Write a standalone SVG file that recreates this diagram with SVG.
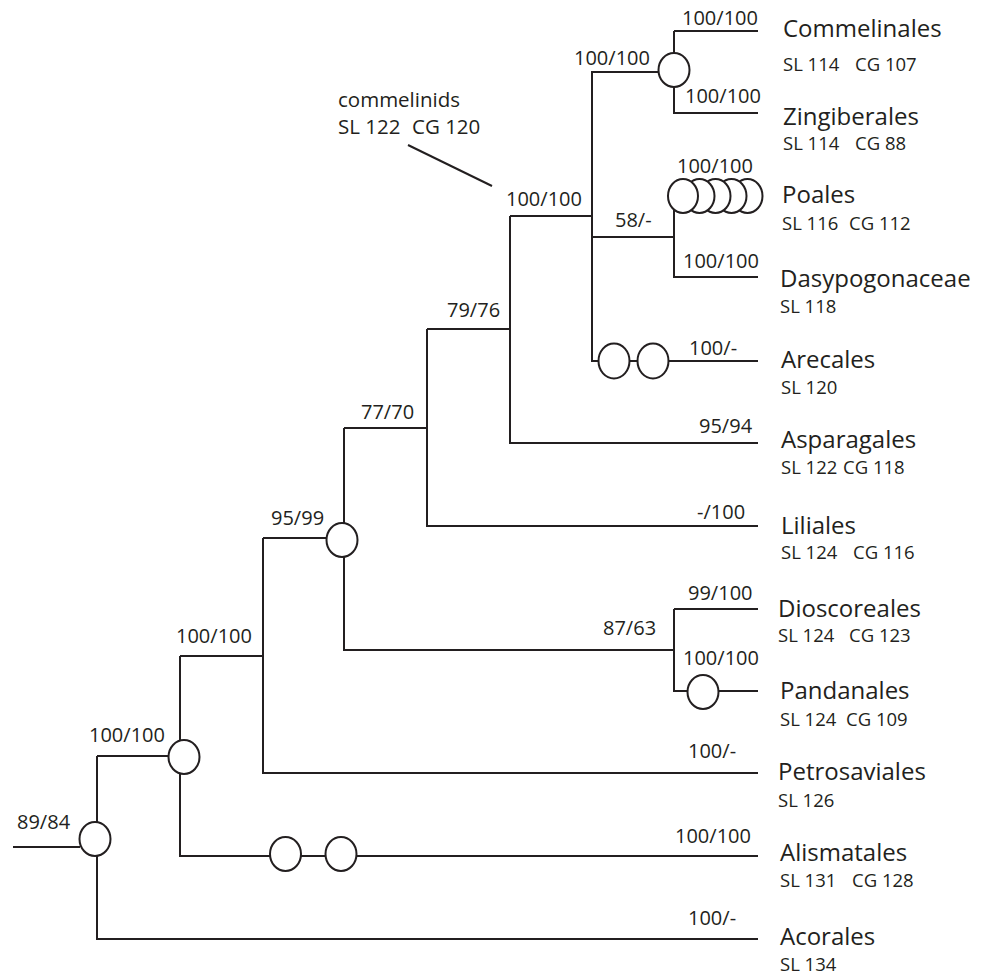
<svg xmlns="http://www.w3.org/2000/svg" width="987" height="975" viewBox="0 0 987 975">
<style>
  .br{fill:none;stroke:#231f20;stroke-width:2;stroke-linecap:butt}
  .ev{fill:#fff;stroke:#231f20;stroke-width:2}
  .lab{font-family:"Open Sans","Liberation Sans",sans-serif;font-size:20px;fill:#231f20}
  .tx{font-family:"Open Sans","Liberation Sans",sans-serif;font-size:24px;fill:#231f20}
  .sl{font-family:"Open Sans","Liberation Sans",sans-serif;font-size:18.5px;fill:#231f20}
  .cm{font-family:"Open Sans","Liberation Sans",sans-serif;font-size:20.5px;fill:#231f20}
</style>
<rect width="987" height="975" fill="#fff"/>
<g id="connectors">
  <path class="br" d="M13 847H80"/>
  <path class="br" d="M97 756V939H758"/>
  <path class="br" d="M97 756H169"/>
  <path class="br" d="M180 656V856H758"/>
  <path class="br" d="M180 656H263"/>
  <path class="br" d="M263 538V773H758"/>
  <path class="br" d="M263 538H344"/>
  <path class="br" d="M344 428V650H674"/>
  <path class="br" d="M674 609V691H758"/>
  <path class="br" d="M674 609H758"/>
  <path class="br" d="M344 428H427"/>
  <path class="br" d="M427 329V526H758"/>
  <path class="br" d="M427 329H510"/>
  <path class="br" d="M510 216V443H758"/>
  <path class="br" d="M510 216H592V361H758"/>
  <path class="br" d="M592 237H674"/>
  <path class="br" d="M674 196V277H758"/>
  <path class="br" d="M674 196H758"/>
  <path class="br" d="M592 216V72H660"/>
  <path class="br" d="M674 31V113H758"/>
  <path class="br" d="M674 31H758"/>
  <path class="br" d="M408 145L492 186"/>
</g>
<g id="events">
  <ellipse class="ev" cx="95" cy="839" rx="15.5" ry="17"/>
  <ellipse class="ev" cx="184" cy="757" rx="15.5" ry="17"/>
  <ellipse class="ev" cx="285.5" cy="854" rx="15.5" ry="17"/>
  <ellipse class="ev" cx="341" cy="854" rx="15.5" ry="17"/>
  <ellipse class="ev" cx="342" cy="540" rx="15.5" ry="17"/>
  <ellipse class="ev" cx="703" cy="692" rx="15.5" ry="17"/>
  <ellipse class="ev" cx="614" cy="361" rx="15.5" ry="17.5"/>
  <ellipse class="ev" cx="653" cy="361" rx="15.5" ry="17.5"/>
  <ellipse class="ev" cx="674" cy="70" rx="15.5" ry="17"/>
  <ellipse class="ev" cx="747.5" cy="196" rx="15" ry="17"/>
  <ellipse class="ev" cx="731.5" cy="196" rx="15" ry="17"/>
  <ellipse class="ev" cx="715.5" cy="196" rx="15" ry="17"/>
  <ellipse class="ev" cx="699.5" cy="196" rx="15" ry="17"/>
  <ellipse class="ev" cx="683" cy="196" rx="15" ry="17"/>
</g>
<g id="support">
  <text class="lab" x="682" y="25">100/100</text>
  <text class="lab" x="574" y="65">100/100</text>
  <text class="lab" x="685" y="103">100/100</text>
  <text class="lab" x="677" y="173">100/100</text>
  <text class="lab" x="506" y="206">100/100</text>
  <text class="lab" x="615" y="227">58/-</text>
  <text class="lab" x="683" y="268">100/100</text>
  <text class="lab" x="447" y="317">79/76</text>
  <text class="lab" x="689" y="355">100/-</text>
  <text class="lab" x="361" y="419">77/70</text>
  <text class="lab" x="699" y="433">95/94</text>
  <text class="lab" x="697" y="519">-/100</text>
  <text class="lab" x="271" y="525">95/99</text>
  <text class="lab" x="688" y="600">99/100</text>
  <text class="lab" x="603" y="635">87/63</text>
  <text class="lab" x="683" y="665">100/100</text>
  <text class="lab" x="176" y="643">100/100</text>
  <text class="lab" x="688" y="758">100/-</text>
  <text class="lab" x="89" y="742">100/100</text>
  <text class="lab" x="17" y="829">89/84</text>
  <text class="lab" x="675" y="843">100/100</text>
  <text class="lab" x="688" y="925">100/-</text>
</g>
<g id="commelinids">
  <text class="cm" x="338" y="107">commelinids</text>
  <text class="cm" x="338" y="134">SL 122</text><text class="cm" x="412" y="134">CG 120</text>
</g>
<g id="Commelinales">
  <text class="tx" x="783" y="37">Commelinales</text>
  <text class="sl" x="783" y="71">SL 114</text><text class="sl" x="855" y="71">CG 107</text>
</g>
<g id="Zingiberales">
  <text class="tx" x="783" y="125">Zingiberales</text>
  <text class="sl" x="783" y="150">SL 114</text><text class="sl" x="855" y="150">CG 88</text>
</g>
<g id="Poales">
  <text class="tx" x="782" y="203">Poales</text>
  <text class="sl" x="782" y="230">SL 116</text><text class="sl" x="849" y="230">CG 112</text>
</g>
<g id="Dasypogonaceae">
  <text class="tx" x="780" y="287">Dasypogonaceae</text>
  <text class="sl" x="780" y="313">SL 118</text>
</g>
<g id="Arecales">
  <text class="tx" x="781" y="368">Arecales</text>
  <text class="sl" x="781" y="394">SL 120</text>
</g>
<g id="Asparagales">
  <text class="tx" x="781" y="448">Asparagales</text>
  <text class="sl" x="781" y="474">SL 122</text><text class="sl" x="843" y="474">CG 118</text>
</g>
<g id="Liliales">
  <text class="tx" x="781" y="534">Liliales</text>
  <text class="sl" x="781" y="559">SL 124</text><text class="sl" x="853" y="559">CG 116</text>
</g>
<g id="Dioscoreales">
  <text class="tx" x="778" y="617">Dioscoreales</text>
  <text class="sl" x="778" y="642">SL 124</text><text class="sl" x="849" y="642">CG 123</text>
</g>
<g id="Pandanales">
  <text class="tx" x="780" y="699">Pandanales</text>
  <text class="sl" x="780" y="726">SL 124</text><text class="sl" x="846" y="726">CG 109</text>
</g>
<g id="Petrosaviales">
  <text class="tx" x="778" y="780">Petrosaviales</text>
  <text class="sl" x="778" y="807">SL 126</text>
</g>
<g id="Alismatales">
  <text class="tx" x="780" y="861">Alismatales</text>
  <text class="sl" x="780" y="887">SL 131</text><text class="sl" x="852" y="887">CG 128</text>
</g>
<g id="Acorales">
  <text class="tx" x="780" y="945">Acorales</text>
  <text class="sl" x="780" y="971">SL 134</text>
</g>
</svg>
